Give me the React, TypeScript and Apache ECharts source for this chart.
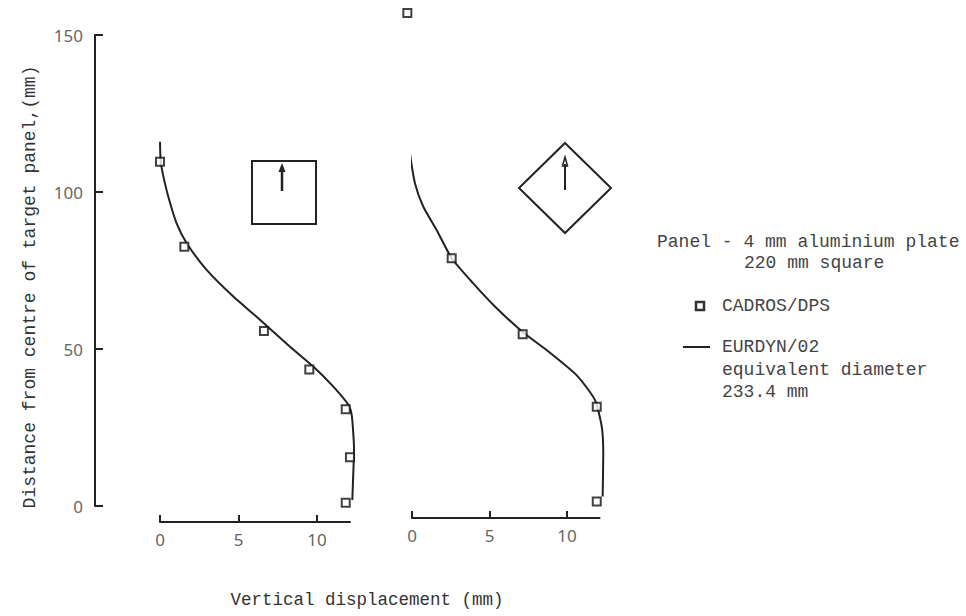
import React, { useEffect, useRef } from "react";
import * as echarts from "echarts";

// Tick values
const yTicks = [0, 50, 100, 150];
const xTicks = [0, 5, 10];

// Panel 1 (square orientation) — EURDYN/02 curve [displacement mm, distance mm]
const curve1: [number, number][] = [
  [0, 116], [0.04, 110], [0.17, 106], [0.53, 98.5], [1.06, 90], [1.7, 83.7],
  [2.97, 75.2], [4.67, 66.7], [6.26, 59.8], [8.28, 50.7], [9.76, 44.4],
  [11.04, 38], [12.0, 32.2], [12.21, 29], [12.31, 23.2], [12.36, 17.8],
  [12.31, 10.4], [12.25, 1.9],
];
// Panel 1 — CADROS/DPS points
const points1: [number, number][] = [
  [0, 109.6], [1.55, 82.6], [6.62, 55.7], [9.51, 43.5], [11.83, 30.8], [12.1, 15.5], [11.83, 1.0],
];

// Panel 2 (diamond orientation) — EURDYN/02 curve
const curve2: [number, number][] = [
  [-0.24, 118.2], [-0.13, 112.3], [0.19, 102.8], [0.73, 95.3], [1.59, 87.9],
  [2.56, 78.9], [3.95, 70.9], [5.3, 63.8], [7.14, 55.4], [8.8, 49.2],
  [10.63, 41.6], [11.8, 33.8], [12.24, 25.3], [12.34, 16.8], [12.3, 3.0],
];
// Panel 2 — CADROS/DPS points (incl. stray point above the axis)
const points2: [number, number][] = [
  [-0.3, 157], [2.56, 78.9], [7.14, 54.7], [11.92, 31.6], [11.92, 1.4],
];

const INK = "#222";
const MONO = "'Liberation Mono', 'DejaVu Sans Mono', monospace";
const SANS = "'Noto Sans', 'DejaVu Sans', sans-serif";

// layout (px)
const TOP = 35;
const HEIGHT = 471;
const P1_LEFT = 160;
const P1_PX_PER_MM = 15.7;
const P2_LEFT = 412;
const P2_PX_PER_MM = 15.5;
const AXIS_MAX = 12.1;
const DATA_MAX = 13;

export default function App() {
  const ref = useRef<HTMLDivElement>(null);

  useEffect(() => {
    if (!ref.current) return;
    const chart = echarts.init(ref.current, undefined, { renderer: "svg" });

    const visibleX = (gridIndex: number, offset: number) => ({
      type: "value" as const,
      gridIndex,
      min: 0,
      max: AXIS_MAX,
      interval: 5,
      offset,
      splitLine: { show: false },
      axisLine: { show: true, onZero: false, lineStyle: { color: INK, width: 2 } },
      axisTick: {
        show: true, inside: true, length: 7, customValues: xTicks,
        lineStyle: { color: INK, width: 2 },
      },
      axisLabel: {
        customValues: xTicks, color: "#666", fontSize: 17, fontFamily: SANS, margin: 9,
      },
    });
    const hiddenX = (gridIndex: number) => ({
      type: "value" as const, gridIndex, min: 0, max: DATA_MAX, show: false,
      splitLine: { show: false },
    });
    const hiddenY = (gridIndex: number) => ({
      type: "value" as const, gridIndex, min: 0, max: 150, show: false,
      splitLine: { show: false },
    });

    const markerStyle = { color: "#fff", borderColor: "#111", borderWidth: 2 };

    chart.setOption({
      animation: false,
      backgroundColor: "#fff",
      grid: [
        { left: P1_LEFT, top: TOP, width: AXIS_MAX * P1_PX_PER_MM, height: HEIGHT },
        { left: P2_LEFT, top: TOP, width: AXIS_MAX * P2_PX_PER_MM, height: HEIGHT },
        { left: P1_LEFT, top: TOP, width: DATA_MAX * P1_PX_PER_MM, height: HEIGHT },
        { left: P2_LEFT, top: TOP, width: DATA_MAX * P2_PX_PER_MM, height: HEIGHT },
      ],
      xAxis: [visibleX(0, 16), visibleX(1, 12), hiddenX(2), hiddenX(3)],
      yAxis: [
        {
          type: "value", gridIndex: 0, min: 0, max: 150, interval: 50, offset: 65,
          splitLine: { show: false },
          axisLine: { show: true, onZero: false, lineStyle: { color: INK, width: 2 } },
          axisTick: { show: true, inside: true, length: 8, lineStyle: { color: INK, width: 2 } },
          axisLabel: { color: "#666", fontSize: 17, fontFamily: SANS, margin: 12,
            customValues: yTicks },
        },
        hiddenY(1), hiddenY(2), hiddenY(3),
      ],
      series: [
        {
          type: "line", name: "EURDYN/02", xAxisIndex: 2, yAxisIndex: 2, data: curve1,
          smooth: 0.2, showSymbol: false, clip: false,
          lineStyle: { color: INK, width: 2 },
        },
        {
          type: "scatter", name: "CADROS/DPS", xAxisIndex: 2, yAxisIndex: 2, data: points1,
          symbol: "rect", symbolSize: 8, itemStyle: markerStyle, clip: false, z: 5,
        },
        {
          type: "line", name: "EURDYN/02", xAxisIndex: 3, yAxisIndex: 3, data: curve2,
          smooth: 0.2, showSymbol: false, clip: false,
          lineStyle: { color: INK, width: 2 },
        },
        {
          type: "scatter", name: "CADROS/DPS", xAxisIndex: 3, yAxisIndex: 3, data: points2,
          symbol: "rect", symbolSize: 8, itemStyle: markerStyle, clip: false, z: 5,
        },
      ],
      graphic: [
        // axis titles
        {
          type: "text", x: 30, y: 287, rotation: Math.PI / 2,
          style: {
            text: "Distance from centre of target panel,(mm)", fill: "#333",
            font: `18px ${MONO}`, align: "center", verticalAlign: "middle",
          },
        },
        {
          type: "text", x: 367, y: 600,
          style: {
            text: "Vertical displacement (mm)", fill: "#333",
            font: `17.5px ${MONO}`, align: "center", verticalAlign: "middle",
          },
        },
        // inset: square panel with arrow
        {
          type: "rect", shape: { x: 252, y: 161, width: 64, height: 63 },
          style: { fill: "none", stroke: INK, lineWidth: 2 },
        },
        { type: "line", shape: { x1: 282, y1: 191, x2: 282, y2: 170 },
          style: { stroke: INK, lineWidth: 2.5 } },
        { type: "polygon", shape: { points: [[282, 163], [278.5, 172], [285.5, 172]] },
          style: { fill: INK } },
        // inset: diamond panel with arrow
        { type: "polygon", shape: { points: [[565, 143], [611, 188], [565, 233], [519, 188]] },
          style: { fill: "none", stroke: INK, lineWidth: 2 } },
        { type: "line", shape: { x1: 565, y1: 190, x2: 565, y2: 164 },
          style: { stroke: INK, lineWidth: 2 } },
        { type: "polygon", shape: { points: [[565, 157], [562.5, 166], [567.5, 166]] },
          style: { fill: "none", stroke: INK, lineWidth: 1.5 } },
        // key
        { type: "text", x: 657, y: 242,
          style: { text: "Panel - 4 mm aluminium plate", fill: "#444", font: `18px ${MONO}`,
            align: "left", verticalAlign: "middle" } },
        { type: "text", x: 744, y: 263,
          style: { text: "220 mm square", fill: "#444", font: `18px ${MONO}`,
            align: "left", verticalAlign: "middle" } },
        { type: "rect", shape: { x: 696, y: 302, width: 8, height: 8 },
          style: { fill: "#fff", stroke: "#333", lineWidth: 2.5 } },
        { type: "text", x: 722, y: 306,
          style: { text: "CADROS/DPS", fill: "#444", font: `18px ${MONO}`,
            align: "left", verticalAlign: "middle" } },
        { type: "line", shape: { x1: 683, y1: 347, x2: 710, y2: 347 },
          style: { stroke: INK, lineWidth: 2 } },
        { type: "text", x: 722, y: 347,
          style: { text: "EURDYN/02", fill: "#444", font: `18px ${MONO}`,
            align: "left", verticalAlign: "middle" } },
        { type: "text", x: 722, y: 370,
          style: { text: "equivalent diameter", fill: "#444", font: `18px ${MONO}`,
            align: "left", verticalAlign: "middle" } },
        { type: "text", x: 722, y: 392,
          style: { text: "233.4 mm", fill: "#444", font: `18px ${MONO}`,
            align: "left", verticalAlign: "middle" } },
      ],
    });

    return () => chart.dispose();
  }, []);

  return (
    <div
      ref={ref}
      style={{ position: "absolute", left: 0, top: 0, width: 966, height: 616 }}
    />
  );
}
